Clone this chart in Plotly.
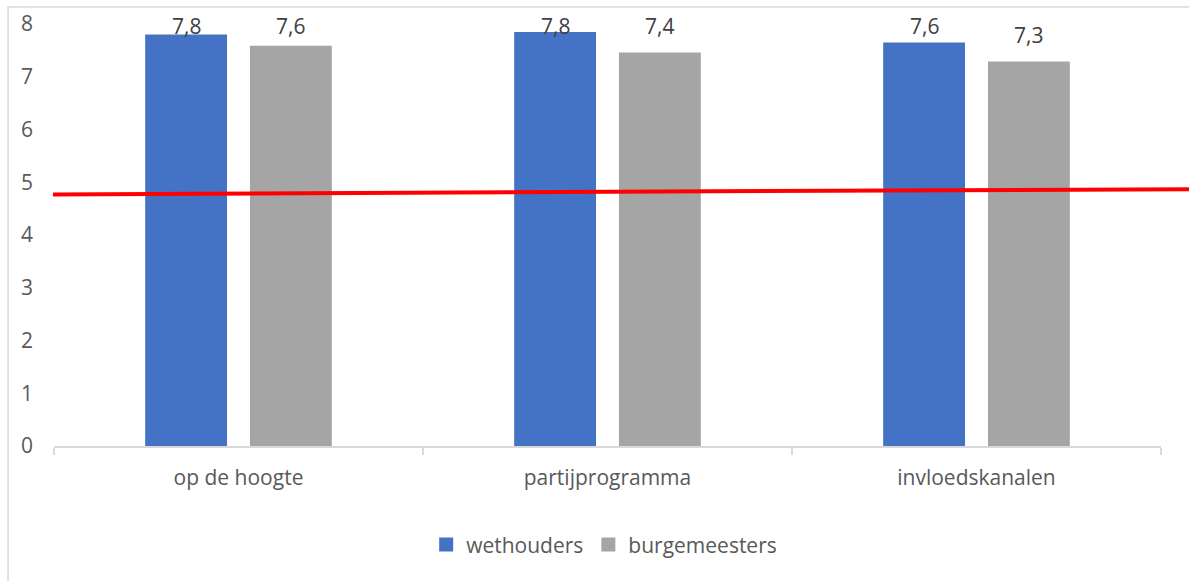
import plotly.graph_objects as go

categories = ["op de hoogte", "partijprogramma", "invloedskanalen"]
wethouders = [7.80, 7.85, 7.65]
burgemeesters = [7.59, 7.46, 7.29]
labels_weth = ["7,8", "7,8", "7,6"]
labels_burg = ["7,6", "7,4", "7,3"]
ref_line = [4.77, 4.87]  # red line, left end -> right end

FONT = "Open Sans"
BLUE = "#4472C4"
GRAY = "#A5A5A5"
BARGAP = 0.432

fig = go.Figure()
fig.add_bar(name="wethouders", x=categories, y=wethouders, marker_color=BLUE,
            marker_line_width=0, showlegend=False)
fig.add_bar(name="burgemeesters", x=categories, y=burgemeesters, marker_color=GRAY,
            marker_line_width=0, showlegend=False)
# legend entries with square swatches
for name, col in (("wethouders", BLUE), ("burgemeesters", GRAY)):
    fig.add_scatter(x=[None], y=[None], mode="markers", name=name,
                    marker=dict(symbol="square", size=14, color=col))

# data labels
off = (1 - BARGAP) / 4
ann = []
for i, c in enumerate(categories):
    for vals, labs, sgn in ((wethouders, labels_weth, -1), (burgemeesters, labels_burg, 1)):
        v = vals[i]
        ann.append(dict(x=i + sgn * off, y=min(v + 0.5, 7.96), xref="x", yref="y",
                        text=labs[i], showarrow=False, yanchor="middle",
                        font=dict(family=FONT, size=21, color="#404040")))

fig.update_layout(
    width=1189, height=581,
    margin=dict(l=54, r=28, t=23.5, b=135),
    paper_bgcolor="white", plot_bgcolor="white",
    barmode="group", bargap=BARGAP, bargroupgap=0.219,
    font=dict(family=FONT, size=21, color="#595959"),
    showlegend=True,
    legend=dict(orientation="h", x=0.497, xanchor="center", y=-0.234, yanchor="middle",
                font=dict(family=FONT, size=21, color="#595959"),
                itemwidth=30, tracegroupgap=0),
    annotations=ann,
    xaxis=dict(showgrid=False, showline=True, linecolor="#D9D9D9", linewidth=1.5,
               ticks="outside", tickson="boundaries", ticklen=7, tickcolor="#D9D9D9",
               tickwidth=1.5, ticklabelstandoff=12, automargin=False,
               tickfont=dict(family=FONT, size=21, color="#595959")),
    yaxis=dict(range=[0, 8], dtick=1, showgrid=False, zeroline=False, showline=False,
               ticklabelstandoff=20, automargin=False,
               tickfont=dict(family=FONT, size=21, color="#595959")),
    shapes=[
        dict(type="line", xref="paper", yref="y", x0=-0.0009, x1=1.03,
             y0=ref_line[0], y1=ref_line[1], line=dict(color="#FF0000", width=4),
             layer="above"),
        dict(type="rect", xref="paper", yref="paper", x0=-0.0415, x1=1.2,
             y0=-0.6, y1=1.04, line=dict(color="#D9D9D9", width=1.5),
             layer="below"),
    ],
)

fig.write_html("out.html", config={"displayModeBar": False},
               post_script="document.body.style.margin='0px';")
